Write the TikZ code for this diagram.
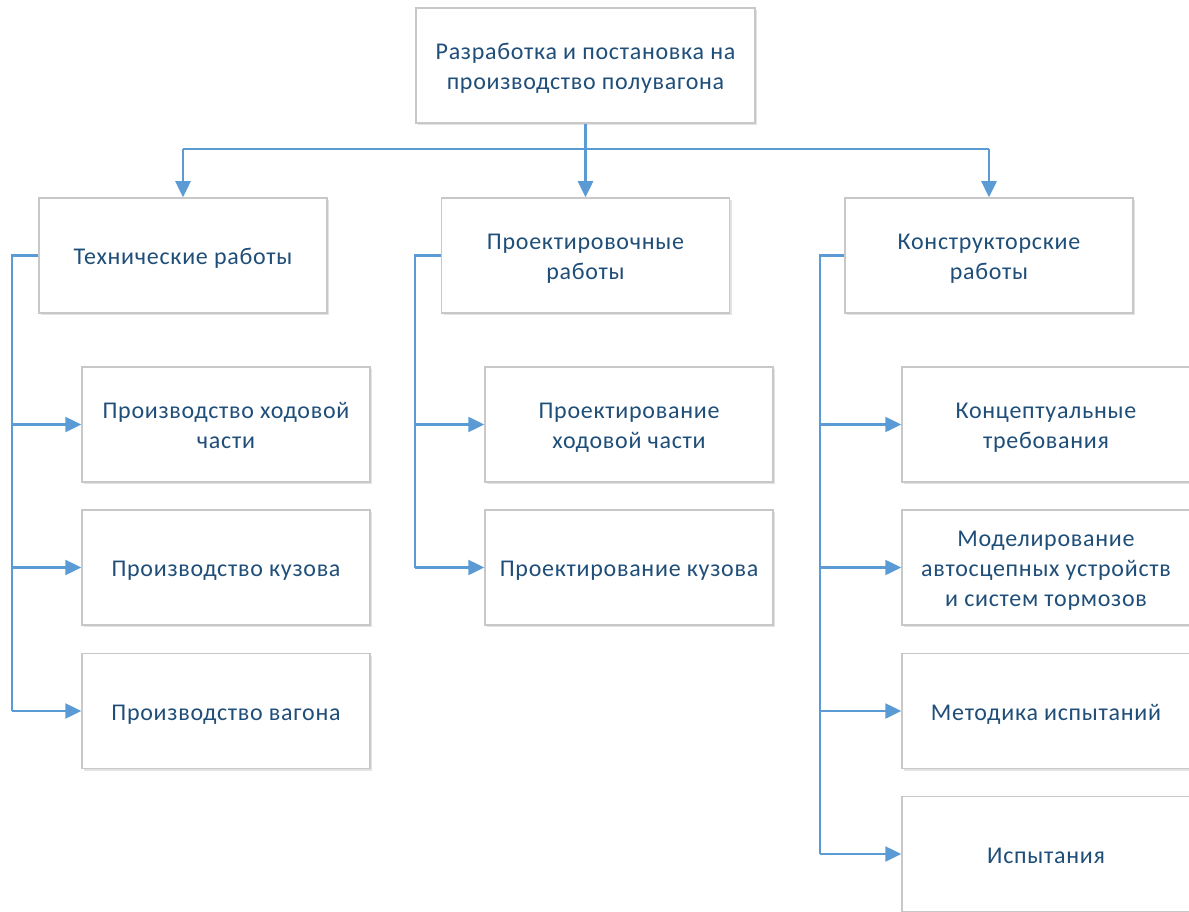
\documentclass[tikz,border=0pt]{standalone}
\usepackage{fontspec}
\setmainfont{Carlito}[LetterSpace=3]
\usetikzlibrary{arrows.meta,shadows}
\definecolor{txtblue}{RGB}{31,78,121}
\definecolor{lnblue}{RGB}{91,155,213}
\definecolor{boxgray}{RGB}{200,200,200}
\newcommand\bxtext[1]{\raisebox{0pt}[\dimexpr\height+6pt\relax][\depth]{\begin{tabular}{@{}c@{}}#1\end{tabular}}}
\begin{document}
\begin{tikzpicture}[x=1pt,y=-1pt,
  box/.style={draw=boxgray,line width=1.5pt,fill=white,
    drop shadow={shadow xshift=2pt,shadow yshift=-2pt,opacity=0.18,fill=black!60},
    minimum width=288pt,minimum height=115pt,inner sep=0pt,
    text=txtblue,font=\fontsize{24}{30}\selectfont},
  ln/.style={draw=lnblue,line width=2.5pt},
  arr/.style={ln,-{Triangle[length=16pt,width=15pt]}}]
\useasboundingbox (0,0) rectangle (1189,912);
% top
\node[box,minimum width=339pt] (top) at (585.5,65.5) {\bxtext{Разработка и постановка на\\производство полувагона}};
% level 2
\node[box] (t1) at (183,255.5) {\bxtext{Технические работы}};
\node[box] (t2) at (585.5,255.5) {\bxtext{Проектировочные\\работы}};
\node[box] (t3) at (989,255.5) {\bxtext{Конструкторские\\работы}};
% left children
\node[box] (l1) at (226,424.5) {\bxtext{Производство ходовой\\части}};
\node[box] (l2) at (226,567.5) {\bxtext{Производство кузова}};
\node[box] (l3) at (226,711) {\bxtext{Производство вагона}};
% middle children
\node[box] (m1) at (629,424.5) {\bxtext{Проектирование\\ходовой части}};
\node[box] (m2) at (629,567.5) {\bxtext{Проектирование кузова}};
% right children
\node[box] (r1) at (1046,424.5) {\bxtext{Концептуальные\\требования}};
\node[box] (r2) at (1046,567.5) {\bxtext{Моделирование\\автосцепных устройств\\и систем тормозов}};
\node[box] (r3) at (1046,711) {\bxtext{Методика испытаний}};
\node[box] (r4) at (1046,854) {\bxtext{Испытания}};
% coordinates
\coordinate (hb) at (585.5,149);
\coordinate (lt) at (12,0);
\coordinate (mt) at (415,0);
\coordinate (rt) at (820,0);
% top connectors
\draw[ln] (t1.north |- hb) -- (t3.north |- hb);
\draw[arr] (top.south) -- (t2.north);
\draw[arr] (t1.north |- hb) -- (t1.north);
\draw[arr] (t3.north |- hb) -- (t3.north);
% left trunk
\draw[ln,line join=miter] (t1.west) -- (t1.west -| lt) -- (l3.west -| lt);
\draw[arr] (l1.west -| lt) -- (l1.west);
\draw[arr] (l2.west -| lt) -- (l2.west);
\draw[arr] (l3.west -| lt) -- (l3.west);
% middle trunk
\draw[ln,line join=miter] (t2.west) -- (t2.west -| mt) -- (m2.west -| mt);
\draw[arr] (m1.west -| mt) -- (m1.west);
\draw[arr] (m2.west -| mt) -- (m2.west);
% right trunk
\draw[ln,line join=miter] (t3.west) -- (t3.west -| rt) -- (r4.west -| rt);
\draw[arr] (r1.west -| rt) -- (r1.west);
\draw[arr] (r2.west -| rt) -- (r2.west);
\draw[arr] (r3.west -| rt) -- (r3.west);
\draw[arr] (r4.west -| rt) -- (r4.west);
\end{tikzpicture}
\end{document}
